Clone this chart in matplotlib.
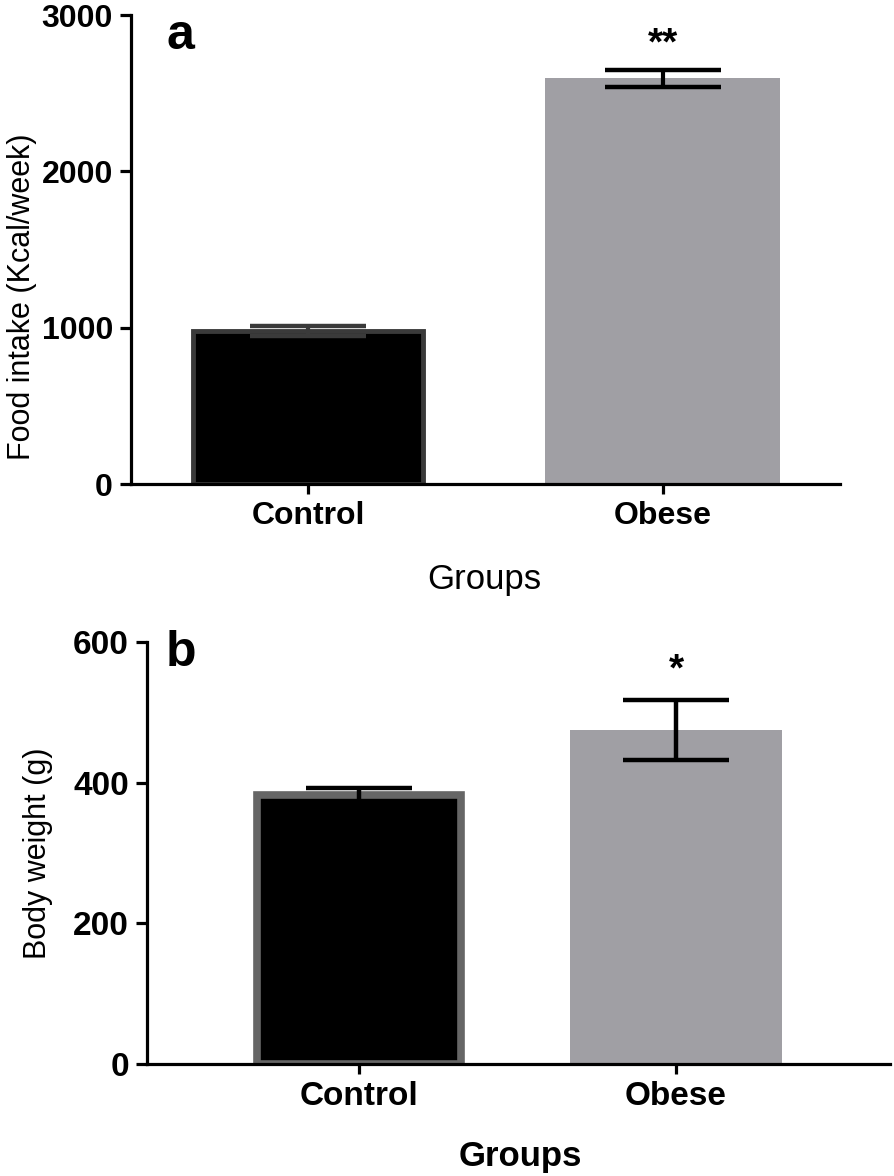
import matplotlib
matplotlib.use("Agg")
import matplotlib.pyplot as plt

plt.rcParams['font.family'] = ['Liberation Sans', 'DejaVu Sans']

groups = ["Control", "Obese"]

# panel a: food intake
food_mean = [980, 2595]
food_err = [30, 55]
food_stars = ["", "**"]

# panel b: body weight
weight_mean = [383, 475]
weight_err = [10, 42]
weight_stars = ["", "*"]

bar_colors = ["black", "#a09fa4"]

fig = plt.figure(figsize=(8.94, 11.76), dpi=100)


def style_axis(ax, yticks, size):
    for s in ["top", "right"]:
        ax.spines[s].set_visible(False)
    for s in ["left", "bottom"]:
        ax.spines[s].set_linewidth(2.3)
    ax.set_yticks(yticks)
    ax.set_xticks([0, 1])
    ax.set_xticklabels(groups)
    ax.tick_params(axis="y", length=8, width=2.3, pad=5, labelsize=size)
    ax.tick_params(axis="x", length=7, width=2.3, pad=5, labelsize=size)
    for lab in ax.get_xticklabels() + ax.get_yticklabels():
        lab.set_fontweight("bold")


# ---- panel a ----
ax1 = fig.add_axes([0.1465, 0.5884, 0.793, 0.3988])
x = range(len(groups))
ax1.bar(x, food_mean, width=[0.65, 0.662], color=bar_colors,
        edgecolor=["#3a3a3a", "#a09fa4"], linewidth=[3.5, 0])
for i in x:
    ax1.errorbar(i, food_mean[i], yerr=food_err[i], fmt="none",
                 ecolor="#3a3a3a" if i == 0 else "black",
                 elinewidth=3, capsize=42, capthick=3.2)
    if food_stars[i]:
        ax1.text(i, food_mean[i] + food_err[i] + 160, food_stars[i],
                 ha="center", va="center", fontsize=28, fontweight="bold")
ax1.set_xlim(-0.5, 1.5)
ax1.set_ylim(0, 3000)
style_axis(ax1, [0, 1000, 2000, 3000], 23)
ax1.set_ylabel("Food intake (Kcal/week)", fontsize=22)
ax1.yaxis.set_label_coords(-0.133, 0.4)
ax1.set_xlabel("Groups", fontsize=25)
ax1.xaxis.set_label_coords(0.499, -0.168)
ax1.text(0.05, 0.955, "a", transform=ax1.transAxes, fontsize=36,
         fontweight="bold", ha="left", va="center")

# ---- panel b ----
ax2 = fig.add_axes([0.1644, 0.0952, 0.831, 0.3588])
ax2.bar(x, weight_mean, width=[0.645, 0.67], color=bar_colors,
        edgecolor=["#666666", "#a09fa4"], linewidth=[5.5, 0])
for i in x:
    ax2.errorbar(i, weight_mean[i], yerr=weight_err[i], fmt="none",
                 ecolor="black", elinewidth=3.2, capsize=38, capthick=3.2)
    if weight_stars[i]:
        ax2.text(i, weight_mean[i] + weight_err[i] + 42, weight_stars[i],
                 ha="center", va="center", fontsize=28, fontweight="bold")
ax2.set_xlim(-0.67, 1.675)
ax2.set_ylim(0, 600)
style_axis(ax2, [0, 200, 400, 600], 24)
ax2.set_ylabel("Body weight (g)", fontsize=22)
ax2.yaxis.set_label_coords(-0.127, 0.5)
ax2.set_xlabel("Groups", fontsize=25, fontweight="bold")
ax2.xaxis.set_label_coords(0.502, -0.18)
ax2.text(0.025, 0.975, "b", transform=ax2.transAxes, fontsize=36,
         fontweight="bold", ha="left", va="center")

fig.savefig("out.png", dpi=100)
